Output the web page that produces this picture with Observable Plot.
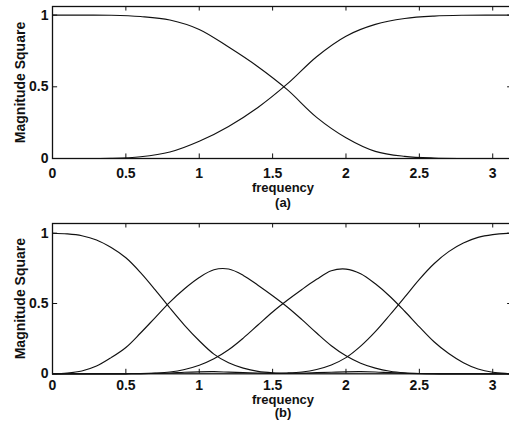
<!DOCTYPE html>
<html><head><meta charset="utf-8">
<script src="https://cdn.jsdelivr.net/npm/d3@7"></script>
<script src="https://cdn.jsdelivr.net/npm/@observablehq/plot@0.6"></script>
<style>
html,body{margin:0;padding:0;background:#fff;}
#chart svg{display:block;}
</style></head><body><div id="chart"></div>
<script>
// ---- axis ticks ----
const xTicks = [0, 0.5, 1, 1.5, 2, 2.5, 3];
const xTickLabels = ["0", "0.5", "1", "1.5", "2", "2.5", "3"];
const yTicks = [0, 0.5, 1];
const yTickLabels = ["0", "0.5", "1"];
const yLabel = "Magnitude Square";
const xLabel = "frequency";
const panelTags = ["(a)", "(b)"];

// ---- panel (a): frequency samples and the two squared magnitudes ----
const freqA = [0, 0.2, 0.4, 0.6, 0.8, 1.0, 1.2, 1.4, 1.6, 1.8, 2.0, 2.2, 2.4, 2.6, 2.8, 3.0, 3.1416];
const lowA  = [1.0, 1.0, 0.999, 0.99, 0.966, 0.90, 0.777, 0.64, 0.48, 0.287, 0.145, 0.05, 0.015, 0.003, 0.0, 0.0, 0.0];
const highA = [0.0, 0.0, 0.001, 0.012, 0.045, 0.12, 0.224, 0.356, 0.52, 0.71, 0.853, 0.935, 0.976, 0.993, 0.999, 1.0, 1.0];

// ---- panel (b): frequency samples and the four squared magnitudes ----
const freqB = [0, 0.1, 0.2, 0.3, 0.4, 0.5, 0.6, 0.7, 0.8, 0.9, 1.0, 1.1, 1.2, 1.3, 1.4, 1.5, 1.6,
               1.7, 1.8, 1.9, 2.0, 2.1, 2.2, 2.3, 2.4, 2.5, 2.6, 2.7, 2.8, 2.9, 3.0, 3.1, 3.1416];
const band1 = [1.0, 0.995, 0.982, 0.952, 0.898, 0.825, 0.72, 0.597, 0.468, 0.345, 0.235, 0.14, 0.078, 0.04, 0.017, 0.007, 0.004,
               0.005, 0.008, 0.011, 0.014, 0.015, 0.013, 0.008, 0.004, 0.001, 0, 0, 0, 0, 0, 0, 0];
const band2 = [0, 0.005, 0.02, 0.055, 0.115, 0.187, 0.29, 0.40, 0.51, 0.605, 0.685, 0.74, 0.745, 0.70, 0.63, 0.555, 0.475,
               0.385, 0.29, 0.20, 0.128, 0.075, 0.04, 0.018, 0.007, 0.002, 0, 0, 0, 0, 0, 0, 0];
const band3 = [0, 0, 0, 0, 0, 0, 0.001, 0.005, 0.013, 0.031, 0.061, 0.107, 0.171, 0.254, 0.347, 0.44, 0.523,
               0.60, 0.672, 0.733, 0.745, 0.712, 0.64, 0.55, 0.445, 0.334, 0.228, 0.144, 0.079, 0.034, 0.011, 0.002, 0];
const band4 = [0, 0, 0, 0, 0, 0, 0.001, 0.003, 0.006, 0.011, 0.014, 0.015, 0.012, 0.009, 0.006, 0.004, 0.006,
               0.013, 0.031, 0.063, 0.115, 0.197, 0.30, 0.42, 0.545, 0.672, 0.783, 0.869, 0.93, 0.97, 0.99, 0.999, 1.0];

const FONT = "Liberation Sans, Arial, Helvetica, sans-serif";
const INK = "#111";

function panel(o) {
  const data = o.series.flatMap((vals, k) => o.freq.map((f, i) => ({f, v: vals[i], key: k})));
  const yMax = o.yMax;
  return Plot.plot({
    width: 509, height: o.height,
    marginLeft: 52, marginRight: -4, marginTop: o.marginTop, marginBottom: o.marginBottom,
    style: {fontFamily: FONT, background: "#fff", overflow: "hidden"},
    x: {domain: [0, Math.PI], axis: null},
    y: {domain: [0, yMax], axis: null},
    marks: [
      Plot.line(data, {x: "f", y: "v", z: "key", curve: "catmull-rom", stroke: INK, strokeWidth: 1.15}),
      Plot.ruleX(xTicks.slice(1), {x: d => d, y1: 0, y2: yMax * 0.03, stroke: INK, strokeWidth: 1}),
      Plot.ruleX(xTicks.slice(1), {x: d => d, y1: yMax, y2: yMax * 0.97, stroke: INK, strokeWidth: 1}),
      Plot.ruleY(yTicks, {y: d => d, x1: 0, x2: 0.035, stroke: INK, strokeWidth: 1}),
      Plot.ruleY(yTicks, {y: d => d, x1: Math.PI - 0.04, x2: Math.PI, stroke: INK, strokeWidth: 1}),
      Plot.frame({stroke: INK, strokeWidth: 1.3}),
      Plot.text(xTicks, {x: d => d, frameAnchor: "bottom", dy: o.tickDy, text: (d, i) => xTickLabels[i],
        fontSize: 14, fontWeight: "bold", fill: INK, fontFamily: FONT}),
      Plot.text(yTicks, {y: d => d, frameAnchor: "left", dx: -4, textAnchor: "end", text: (d, i) => yTickLabels[i],
        fontSize: 14, fontWeight: "bold", fill: INK, fontFamily: FONT}),
      Plot.text([xLabel], {frameAnchor: "bottom", dy: o.labelDy, text: d => d,
        fontSize: 13, fontWeight: "bold", fill: INK, fontFamily: FONT}),
      Plot.text([o.tag], {frameAnchor: "bottom", dy: o.tagDy, text: d => d,
        fontSize: 13, fontWeight: "bold", fill: INK, fontFamily: FONT}),
      Plot.text([yLabel], {frameAnchor: "left", dx: -31.5, rotate: -90, textAnchor: "middle", text: d => d,
        fontSize: 14, fontWeight: "bold", fill: INK, fontFamily: FONT})
    ]
  });
}

const chart = document.getElementById("chart");
chart.appendChild(panel({
  freq: freqA, series: [lowA, highA], height: 210, marginTop: 6, marginBottom: 52, yMax: 1.06,
  tickDy: 19, labelDy: 33.5, tagDy: 48, tag: panelTags[0]
}));
chart.appendChild(panel({
  freq: freqB, series: [band1, band2, band3, band4], height: 211, marginTop: 13, marginBottom: 47.7, yMax: 1.069,
  tickDy: 16.5, labelDy: 30, tagDy: 43.5, tag: panelTags[1]
}));
</script>
</body></html>
